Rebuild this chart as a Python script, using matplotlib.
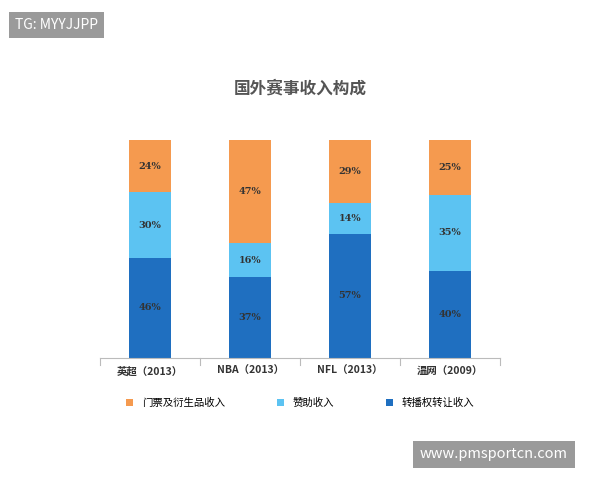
import matplotlib.pyplot as plt
import numpy as np

plt.rcParams['font.family'] = ['Noto Sans CJK SC', 'DejaVu Sans']

categories = ['英超（2013）', 'NBA（2013）', 'NFL（2013）', '温网（2009）']
broadcast = [46, 37, 57, 40]
sponsor = [30, 16, 14, 35]
ticket = [24, 47, 29, 25]

c_dark = '#1f6fc0'
c_light = '#5cc3f2'
c_orange = '#f59a4f'

fig = plt.figure(figsize=(6, 4.8), dpi=100)
ax = fig.add_axes([0.167, 0.254, 0.666, 0.454])
x = np.arange(len(categories))
w = 0.42

series = [(broadcast, c_dark, '转播权转让收入'),
          (sponsor, c_light, '赞助收入'),
          (ticket, c_orange, '门票及衍生品收入')]
bottom = np.zeros(len(categories))
handles = []
for vals, col, name in series:
    b = ax.bar(x, vals, w, bottom=bottom, color=col, label=name)
    handles.append(b)
    for xi, v, bt in zip(x, vals, bottom):
        ax.text(xi, bt + v / 2, f'{v}%', ha='center', va='center',
                fontsize=7, fontweight='bold', color='#333333', family='serif')
    bottom += np.array(vals)

ax.set_xlim(-0.5, 3.5)
ax.set_ylim(0, 100)
ax.set_yticks([])
ax.set_xticks(x)
ax.set_xticklabels(categories, fontsize=7.5, fontweight='bold', color='#333333')
ax.tick_params(axis='x', length=0, pad=6)
for s in ['top', 'right', 'left']:
    ax.spines[s].set_visible(False)
ax.spines['bottom'].set_color('#bbbbbb')
for xb in [-0.5, 0.5, 1.5, 2.5, 3.5]:
    ax.plot([xb, xb], [0, -3], color='#bbbbbb', lw=0.8, clip_on=False)

fig.text(0.5, 0.815, '国外赛事收入构成', ha='center', va='center',
         fontsize=12, fontweight='bold', color='#555555')

fig.legend(handles=handles[::-1], labels=[h.get_label() for h in handles[::-1]],
           loc='center', bbox_to_anchor=(0.5, 0.16), ncol=3, frameon=False,
           fontsize=7.5, handlelength=0.7, handleheight=0.7, columnspacing=5)

fig.text(0.025, 0.948, 'TG: MYYJJPP', fontsize=10, color='white', va='center',
         bbox=dict(boxstyle='square,pad=0.4', fc='#9a9a9a', ec='none'))
fig.text(0.7, 0.054, 'www.pmsportcn.com', fontsize=10.5, color='white', va='center',
         bbox=dict(boxstyle='square,pad=0.45', fc='#9a9a9a', ec='none'))

fig.savefig('out.png', dpi=100, facecolor='white')
